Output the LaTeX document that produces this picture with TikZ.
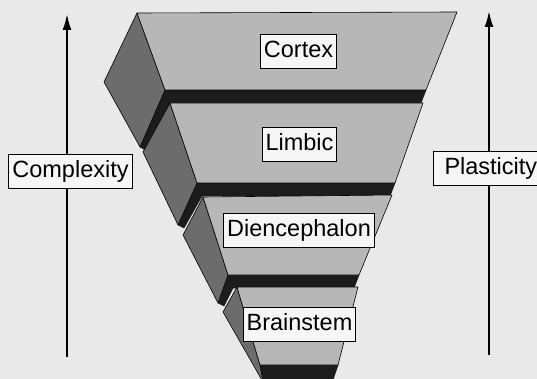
\documentclass[tikz,border=0pt]{standalone}
\usepackage{fontspec}
\setmainfont{Liberation Sans}
\definecolor{bgc}{HTML}{E9E9E9}
\definecolor{facec}{HTML}{B7B7B7}
\definecolor{sidec}{HTML}{6C6C6C}
\definecolor{bandc}{HTML}{1C1C1C}
\definecolor{boxc}{HTML}{F6F6F6}
\usetikzlibrary{arrows.meta}
\tikzset{
  face/.style={fill=facec, draw=black, line width=0.6pt, line join=round},
  side/.style={fill=sidec, draw=black, line width=0.6pt, line join=round},
  band/.style={fill=bandc, draw=bandc, line width=0.6pt, line join=round},
  lbl/.style={draw=black, line width=1pt, fill=boxc, font=\fontsize{23.5}{27}\selectfont,
    text height=17pt, text depth=5pt, inner xsep=3.5pt, inner ysep=6pt},
  axis/.style={line width=2pt, -{Latex[length=16pt,width=9pt]}}
}
\begin{document}
\begin{tikzpicture}[x=1pt,y=-1pt]
\fill[bgc] (0,0) rectangle (537,379);
\useasboundingbox (0,0) rectangle (537,379);
% Cortex
\fill[band] (140,147) -- (165,90) -- (426,90) -- (421,103) -- (170,103) -- (147,151) -- cycle;
\draw[side] (137,13) -- (104,82) -- (140,147) -- (165,90) -- cycle;
\draw[face] (137,13) -- (457,12) -- (426,90) -- (165,90) -- cycle;
% Limbic
\fill[band] (178,225) -- (197,183) -- (395,183) -- (390,196) -- (202,196) -- (184,228) -- cycle;
\draw[side] (170,103) -- (143,152) -- (178,225) -- (197,183) -- cycle;
\draw[face] (170,103) -- (423,103) -- (395,183) -- (197,183) -- cycle;
% Diencephalon
\fill[band] (218,303) -- (228,275) -- (359,275) -- (354,288) -- (233,288) -- (224,306) -- cycle;
\draw[side] (203,197) -- (183,235) -- (218,303) -- (228,275) -- cycle;
\draw[face] (203,197) -- (392,195) -- (359,275) -- (228,275) -- cycle;
% Brainstem
\fill[band] (263,380) -- (260,365) -- (338,365) -- (333,380) -- cycle;
\draw[side] (237,287) -- (223,312) -- (263,382) -- (260,365) -- cycle;
\draw[face] (237,287) -- (358,287) -- (338,365) -- (260,365) -- cycle;
% labels
\node[lbl] (cortex) at (298.5,52) {Cortex};
\node[lbl] (limbic) at (299.5,145) {Limbic};
\node[lbl] (dien) at (299,230.5) {Diencephalon};
\node[lbl] (brain) at (299.5,324.5) {Brainstem};
% axes
\coordinate (lb) at (67,357);
\coordinate (lt) at (67,14);
\coordinate (rb) at (489,355);
\coordinate (rt) at (489,11);
\draw[axis] (lb) -- (lt);
\draw[axis] (rb) -- (rt);
\node[lbl] (cx) at (70.5,171.5) {Complexity};
\node[lbl, anchor=west, text width=100pt, inner xsep=11pt] (pl) at (433,168.5) {Plasticity};
\end{tikzpicture}
\end{document}
